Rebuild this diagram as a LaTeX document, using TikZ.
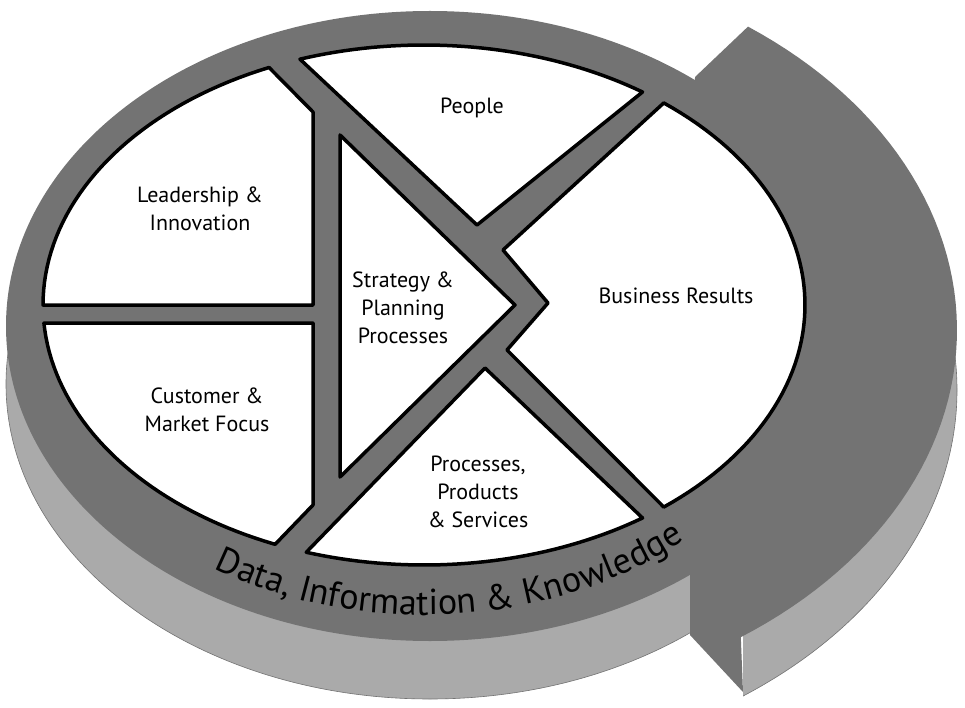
\documentclass[tikz,border=0pt]{standalone}
\usepackage{fontspec}
\setmainfont{PT Sans}
\usetikzlibrary{decorations.text}
\definecolor{ringdark}{HTML}{737373}
\definecolor{ringlight}{HTML}{AAAAAA}

\begin{document}
\begin{tikzpicture}[x=1pt,y=-1pt,
    region/.style={fill=white,draw=black,line width=3.5,line join=round},
    txt/.style={align=center,font=\fontsize{22}{28}\selectfont}]
\useasboundingbox (0,0) rectangle (965,708);
% side of the disc
\fill[ringlight,draw=black!55,line width=0.6] (430,384) ellipse [x radius=424,y radius=315];
\begin{scope}
  \clip (743,0) rectangle (965,708);
  \fill[ringlight,draw=black!55,line width=0.6] (450,390) ellipse [x radius=507,y radius=375];
\end{scope}
% top of the disc and the arrow
\fill[ringdark] (430,326) ellipse [x radius=424,y radius=315];
\fill[ringdark] (695,77) -- plot[domain=-54:55,variable=\t,samples=60] ({450+507*cos(\t)},{330+375*sin(\t)})
    -- (743,692) -- (690,635) -- (690,578) -- cycle;
% the six fields
\draw[region] (313,305) -- plot[domain=180:246,variable=\t,samples=40] ({424+381*cos(\t)},{305+260*sin(\t)}) -- (313,112) -- cycle;
\draw[region] (313,323) -- plot[domain=113:176,variable=\t,samples=40] ({424+381*cos(289-\t)},{305+260*sin(289-\t)}) -- (313,505) -- cycle;
\draw[region] (477,225) -- plot[domain=251:305,variable=\t,samples=40] ({424+381*cos(\t)},{305+260*sin(\t)}) -- cycle;
\draw[region] (340,135) -- (515,305) -- (340,477) -- cycle;
\draw[region] (503,250) -- (548,303) -- (507,350) -- plot[domain=-51:51,variable=\t,samples=60] ({424+381*cos(-\t)},{305+260*sin(-\t)}) -- cycle;
\draw[region] (485,368) -- plot[domain=55:108,variable=\t,samples=40] ({424+381*cos(\t)},{305+260*sin(\t)}) -- cycle;
% labels
\node[txt] (people) at (472,108) {People};
\node[txt] (lead) at (200,209) {Leadership \&\\Innovation};
\node[txt] (strat) at (403,308) {Strategy \&\\Planning\\Processes};
\node[txt] (results) at (676,296) {Business Results};
\node[txt] (cust) at (207,410) {Customer \&\\Market Focus};
\node[txt] (procs) at (478,492) {Processes,\\Products\\\& Services};
% text on the rim
\path[decorate,decoration={text along path,text align=center,
    text={|\fontsize{36}{40}\selectfont|Data, Information {\&} Knowledge}}]
    plot[domain=48:123,variable=\t,samples=40] ({424+400*cos(171-\t)},{305+310*sin(171-\t)});
\end{tikzpicture}
\end{document}
